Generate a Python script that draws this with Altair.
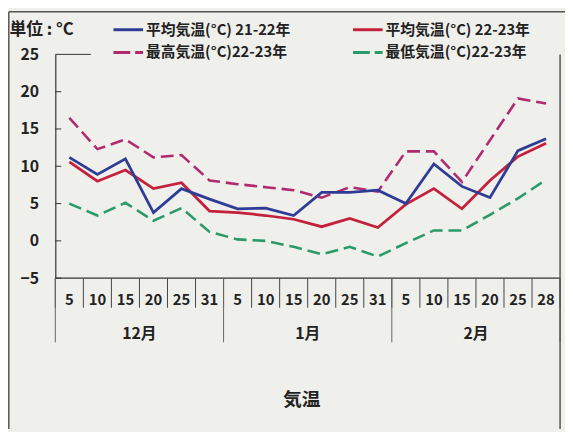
import altair as alt
import pandas as pd

# ---- data -------------------------------------------------------------
days = [5, 10, 15, 20, 25, 31, 5, 10, 15, 20, 25, 31, 5, 10, 15, 20, 25, 28]
months = ["12月", "1月", "2月"]
month_len = [6, 6, 6]

avg_2122 = [11.2, 8.9, 11.0, 3.8, 7.0, 5.6, 4.3, 4.4, 3.4, 6.5, 6.5, 6.8, 5.0, 10.3, 7.3, 5.8, 12.1, 13.7]
avg_2223 = [10.6, 8.0, 9.5, 7.0, 7.8, 4.0, 3.8, 3.4, 2.9, 1.9, 3.0, 1.8, 4.9, 7.0, 4.3, 8.1, 11.3, 13.1]
max_2223 = [16.5, 12.3, 13.6, 11.2, 11.5, 8.1, 7.6, 7.2, 6.8, 5.8, 7.2, 6.6, 12.0, 12.0, 7.9, 13.5, 19.1, 18.4]
min_2223 = [5.0, 3.4, 5.1, 2.7, 4.4, 1.2, 0.2, 0.0, -0.8, -1.8, -0.8, -2.1, -0.3, 1.4, 1.4, 3.5, 5.7, 8.2]

series_names = [
    "平均気温(°C) 21-22年",
    "平均気温(°C) 22-23年",
    "最高気温(°C)22-23年",
    "最低気温(°C)22-23年",
]
series_values = [avg_2122, avg_2223, max_2223, min_2223]
y_ticks = [-5, 0, 5, 10, 15, 20, 25]
unit_label = "単位 : °C"
chart_title = "気温"

# ---- styles -----------------------------------------------------------
FONT = "Noto Sans CJK JP"
W, H = 512, 227
colors = ["#2e3c96", "#c4203c", "#b02a6e", "#2a9a68"]
dashes = [None, None, [13, 6], [13, 6]]
widths = [2.8, 2.8, 2.6, 2.6]
draw_order = [2, 3, 1, 0]
INK = "#222222"
WT = "bold"

n = len(days)
xs = alt.Scale(domain=[-0.5, n - 0.5], nice=False, zero=False)
ys = alt.Scale(domain=[-5, 25], nice=False, zero=False)
yax = alt.Axis(
    values=y_ticks, tickSize=0, grid=False,
    domainColor="#333333", domainWidth=1.2,
    labelFont=FONT, labelFontSize=16, labelFontWeight=WT, labelColor=INK, labelPadding=17,
    title=unit_label, titleAngle=0, titleAlign="left", titleBaseline="middle",
    titleX=-47, titleY=-25, titleFont=FONT, titleFontSize=17,
    titleFontWeight=WT, titleColor=INK,
)

layers = []

# series lines
for k in draw_order:
    d = pd.DataFrame({"i": list(range(n)), "v": series_values[k], "series": series_names[k]})
    mk = dict(color=colors[k], strokeWidth=widths[k], strokeJoin="miter")
    if dashes[k]:
        mk["strokeDash"] = dashes[k]
    layers.append(
        alt.Chart(d).mark_line(**mk).encode(
            x=alt.X("i:Q", scale=xs, axis=None),
            y=alt.Y("v:Q", scale=ys, axis=yax),
        )
    )

# inward y ticks
tick_df = pd.DataFrame({"v": y_ticks[:-1]})
layers.append(
    alt.Chart(tick_df).mark_rule(color="#333333", strokeWidth=1).encode(
        y=alt.Y("v:Q", scale=ys, axis=yax), x=alt.value(0), x2=alt.value(6)
    )
)
top_df = pd.DataFrame({"v": [y_ticks[-1]]})
layers.append(
    alt.Chart(top_df).mark_rule(color="#333333", strokeWidth=1).encode(
        y=alt.Y("v:Q", scale=ys, axis=yax), x=alt.value(0), x2=alt.value(36)
    )
)

# bottom axis line
layers.append(
    alt.Chart(pd.DataFrame({"a": [0]})).mark_rule(color="#333333", strokeWidth=1.2).encode(
        x=alt.value(0), x2=alt.value(W), y=alt.value(H)
    )
)

# day boundary ticks
bounds = [i - 0.5 for i in range(n + 1)]
layers.append(
    alt.Chart(pd.DataFrame({"b": bounds})).mark_rule(color="#444444", strokeWidth=1).encode(
        x=alt.X("b:Q", scale=xs, axis=None), y=alt.value(H), y2=alt.value(H + 30)
    )
)

# month boundaries
mb = [-0.5]
for L in month_len:
    mb.append(mb[-1] + L)
layers.append(
    alt.Chart(pd.DataFrame({"b": mb})).mark_rule(color="#666666", strokeWidth=1).encode(
        x=alt.X("b:Q", scale=xs, axis=None), y=alt.value(H), y2=alt.value(H + 65)
    )
)

# day labels
day_df = pd.DataFrame({"i": list(range(n)), "day": [str(d) for d in days]})
layers.append(
    alt.Chart(day_df).mark_text(font=FONT, fontSize=15, fontWeight=WT, color=INK, baseline="middle").encode(
        x=alt.X("i:Q", scale=xs, axis=None), y=alt.value(H + 22), text="day:N"
    )
)

# month labels
centers = [(mb[j] + mb[j + 1]) / 2 for j in range(len(months))]
mon_df = pd.DataFrame({"c": centers, "m": months})
layers.append(
    alt.Chart(mon_df).mark_text(font=FONT, fontSize=16, fontWeight=WT, color=INK, baseline="middle").encode(
        x=alt.X("c:Q", scale=xs, axis=None), y=alt.value(H + 57), text="m:N"
    )
)

# title
layers.append(
    alt.Chart(pd.DataFrame({"t": [chart_title]})).mark_text(
        font=FONT, fontSize=19, fontWeight="bold", color=INK, baseline="middle"
    ).encode(x=alt.value(250), y=alt.value(H + 124), text="t:N")
)

# legend
for k in range(len(series_names)):
    col, row = k % 2, k // 2
    lx = 59 + col * 243
    ly = -25 + row * 23
    ld = pd.DataFrame({"label": [series_names[k]]})
    rk = dict(color=colors[k], strokeWidth=3)
    if dashes[k]:
        rk["strokeDash"] = [17, 5]
    layers.append(
        alt.Chart(ld).mark_rule(**rk).encode(
            x=alt.value(lx), x2=alt.value(lx + 30), y=alt.value(ly)
        )
    )
    layers.append(
        alt.Chart(ld).mark_text(
            font=FONT, fontSize=15, fontWeight=WT, color=INK, align="left", baseline="middle"
        ).encode(x=alt.value(lx + 33), y=alt.value(ly), text="label:N")
    )

# frame
frame_df = pd.DataFrame({"a": [0]})
layers.append(
    alt.Chart(frame_df).mark_rule(color="#555555", strokeWidth=1.5).encode(
        x=alt.value(-47.2), y=alt.value(-43.2), y2=alt.value(H + 153)
    )
)
layers.append(
    alt.Chart(frame_df).mark_rule(color="#555555", strokeWidth=1.5).encode(
        x=alt.value(-47.2), x2=alt.value(W + 5), y=alt.value(-43.2)
    )
)
layers.append(
    alt.Chart(frame_df).mark_rule(color="#555555", strokeWidth=1.5).encode(
        x=alt.value(W), y=alt.value(0), y2=alt.value(H + 153)
    )
)

chart = (
    alt.layer(*layers)
    .properties(
        width=W, height=H,
        autosize=alt.AutoSizeParams(type="none"),
        padding={"left": 48, "top": 44, "right": 5, "bottom": 153},
        background="#efefeb",
    )
    .configure_view(stroke=None)
)

chart.save("out.html", embed_options={"renderer": "svg", "actions": False})
